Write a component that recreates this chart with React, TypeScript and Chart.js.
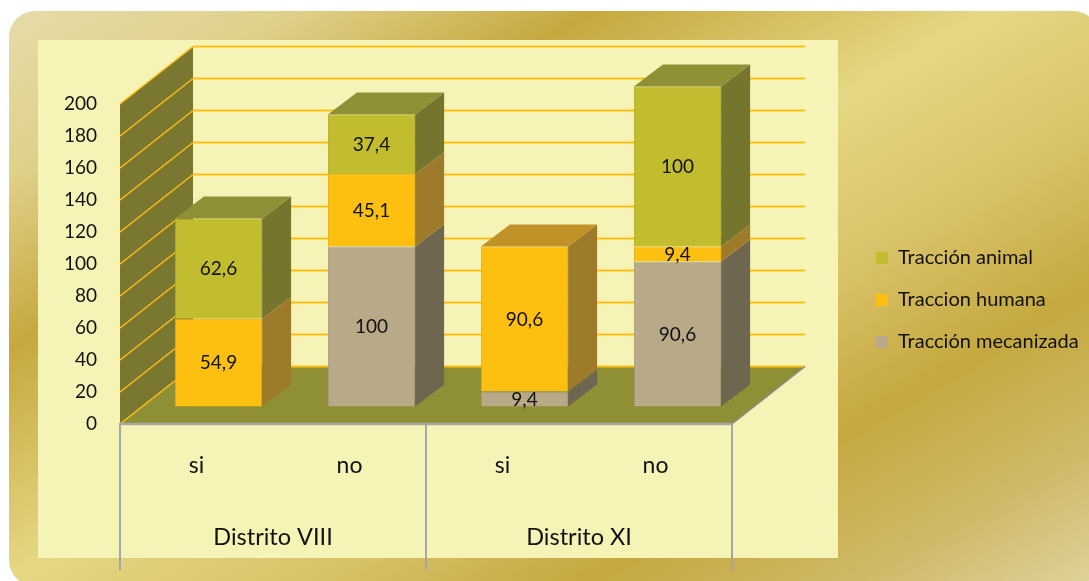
import React, { useEffect, useRef } from "react";
import { Chart, registerables } from "chart.js";

Chart.register(...registerables);

const categories = ["si", "no", "si", "no"];
const groups = [
  { label: "Distrito VIII", from: 0, to: 1 },
  { label: "Distrito XI", from: 2, to: 3 },
];
const mecanizada = [null, 100, 9.4, 90.6];
const humana = [54.9, 45.1, 90.6, 9.4];
const animal = [62.6, 37.4, null, 100];

const FONT = "Lato, Carlito, Calibri, sans-serif";
const TEXT = "#111111";
const GOLD = "#fcbf14";
const AXIS = "#a6a6a6";
const RIGHT_PAD = 10;
// 3D projection of the Excel chart
const WALL = { dx: 73, dy: -57.5 };
const BAR = { shiftX: 22, shiftY: -17.5, dx: 29, dy: -22 };

const shades = [
  { front: "#b8aa88", side: "#6f6650", top: "#8f8a50" },
  { front: "#fdc010", side: "#9e7a2b", top: "#c09228" },
  { front: "#c2bc2f", side: "#76752e", top: "#8f8f35" },
];

function poly(ctx: CanvasRenderingContext2D, pts: number[][], fill: string) {
  ctx.beginPath();
  pts.forEach((p, i) => (i ? ctx.lineTo(p[0], p[1]) : ctx.moveTo(p[0], p[1])));
  ctx.closePath();
  ctx.fillStyle = fill;
  ctx.fill();
}

function line(ctx: CanvasRenderingContext2D, a: number[], b: number[], color: string, w: number) {
  ctx.beginPath();
  ctx.moveTo(a[0], a[1]);
  ctx.lineTo(b[0], b[1]);
  ctx.strokeStyle = color;
  ctx.lineWidth = w;
  ctx.stroke();
}

const box3d = {
  id: "box3d",
  afterLayout(chart: any) {
    // the layout caps the legend's width: widen its box so no text is clipped
    const lg = chart.legend;
    lg.left = 854;
    lg.right = 1089;
    lg.width = 235;
  },
  beforeDraw(chart: any) {
    const { ctx, chartArea: a, scales } = chart;
    const y = scales.y;
    const { dx, dy } = WALL;
    ctx.save();
    // side wall and floor
    poly(ctx, [[a.left, a.bottom], [a.left + dx, a.bottom + dy], [a.left + dx, a.top + dy], [a.left, a.top]], "#7a7730");
    poly(ctx, [[a.left, a.bottom], [a.left + dx, a.bottom + dy], [a.right + dx, a.bottom + dy], [a.right, a.bottom]], "#8f8f35");
    // gridlines on side wall and back wall
    y.ticks.forEach((t: any) => {
      const py = y.getPixelForValue(t.value);
      line(ctx, [a.left, py], [a.left + dx, py + dy], GOLD, 1.5);
      line(ctx, [a.left + dx, py + dy], [a.right + dx, py + dy], GOLD, 2);
    });
    line(ctx, [a.right, a.bottom], [a.right + dx, a.bottom + dy], "#8c8c8c", 1.5);
    // multi-level category axis
    const x = scales.x;
    const edges = [a.left, (x.getPixelForValue(1) + x.getPixelForValue(2)) / 2, a.right];
    line(ctx, [a.left - 1, a.bottom], [a.right + 1, a.bottom], AXIS, 2.5);
    edges.forEach((e) => line(ctx, [e, a.bottom], [e, 570], AXIS, 2));
    ctx.fillStyle = TEXT;
    ctx.font = `23.5px ${FONT}`;
    ctx.textAlign = "center";
    ctx.textBaseline = "middle";
    groups.forEach((g) => {
      const c = (x.getPixelForValue(g.from) + x.getPixelForValue(g.to)) / 2;
      ctx.fillText(g.label, c, 537);
    });
    ctx.restore();
  },
  beforeDatasetsDraw(chart: any) {
    const { ctx } = chart;
    ctx.save();
    ctx.translate(BAR.shiftX, BAR.shiftY);
    categories.forEach((_, idx) => {
      let topIdx = -1;
      chart.data.datasets.forEach((d: any, ds: number) => {
        if (d.data[idx] != null) topIdx = ds;
      });
      chart.data.datasets.forEach((d: any, ds: number) => {
        if (d.data[idx] == null) return;
        const el = chart.getDatasetMeta(ds).data[idx];
        const r = el.x + el.width / 2;
        const l = el.x - el.width / 2;
        poly(ctx, [[r, el.y], [r + BAR.dx, el.y + BAR.dy], [r + BAR.dx, el.base + BAR.dy], [r, el.base]], shades[ds].side);
        if (ds === topIdx) {
          poly(ctx, [[l, el.y], [l + BAR.dx, el.y + BAR.dy], [r + BAR.dx, el.y + BAR.dy], [r, el.y]], shades[ds].top);
        }
      });
    });
  },
  afterDatasetsDraw(chart: any) {
    const { ctx } = chart;
    ctx.fillStyle = TEXT;
    ctx.font = `19px ${FONT}`;
    ctx.textAlign = "center";
    ctx.textBaseline = "middle";
    chart.data.datasets.forEach((d: any, ds: number) => {
      d.data.forEach((v: number | null, idx: number) => {
        if (v == null) return;
        const el = chart.getDatasetMeta(ds).data[idx];
        ctx.fillText(String(v).replace(".", ","), el.x, (el.y + el.base) / 2 + 0.5);
      });
    });
    ctx.restore();
  },
};

export default function App() {
  const ref = useRef<HTMLCanvasElement>(null);
  useEffect(() => {
    document.body.style.margin = "0";
    document.body.style.overflow = "hidden";
    const chart = new Chart(ref.current!, {
      type: "bar",
      data: {
        labels: categories,
        datasets: [
          { label: "Tracción mecanizada", data: mecanizada, backgroundColor: shades[0].front, borderColor: "#a89a78", borderWidth: 1, clip: false },
          { label: "Traccion humana", data: humana, backgroundColor: shades[1].front, borderColor: "#e4ac14", borderWidth: 1, clip: false },
          { label: "Tracción animal", data: animal, backgroundColor: shades[2].front, borderColor: "#b0aa2a", borderWidth: 1, clip: false },
        ] as any,
      },
      options: {
        animation: false,
        responsive: false,
        layout: { padding: { top: 104, right: RIGHT_PAD, left: 0, bottom: 85 } },
        datasets: { bar: { barPercentage: 0.57, categoryPercentage: 1 } },
        plugins: {
          tooltip: { enabled: false },
          legend: {
            position: "right",
            reverse: true,
            align: "center",
            labels: {
              boxWidth: 12,
              boxHeight: 12,
              padding: 22,
              color: TEXT,
              font: { family: FONT, size: 20 },
              generateLabels: (chart: any) =>
                Chart.defaults.plugins.legend.labels
                  .generateLabels(chart)
                  .map((item: any) => ({ ...item, lineWidth: 0, strokeStyle: "transparent" })),
            },
          },
        },
        scales: {
          x: {
            stacked: true,
            grid: { display: false },
            border: { display: false },
            ticks: { color: TEXT, font: { family: FONT, size: 23 }, padding: 20, maxRotation: 0, autoSkip: false },
            afterFit: (s: any) => { s.height = 72; },
          },
          y: {
            stacked: true,
            min: 0,
            max: 200,
            grid: { display: false },
            border: { display: false },
            ticks: { stepSize: 20, color: TEXT, font: { family: FONT, size: 19 }, padding: 15 },
            afterFit: (s: any) => { s.width = 120; },
          },
          gap: {
            type: "linear",
            position: "right",
            display: true,
            grid: { display: false },
            border: { display: false },
            ticks: { display: false },
            afterFit: (s: any) => {
              const lw = s.chart.legend ? s.chart.legend.width : 200;
              s.width = 1089 - RIGHT_PAD - 732 - lw;
            },
          },
        },
      } as any,
      plugins: [box3d],
    });
    return () => chart.destroy();
  }, []);

  const goldBg =
    "linear-gradient(150deg,#e6dbab 0%,#dfd088 14%,#c6a83e 28%,#e5d784 47%,#d8c268 62%,#c5a83e 75%,#cfb968 88%,#e0d49c 100%)";
  return (
    <div style={{ position: "relative", width: 1089, height: 581, overflow: "hidden", background: "#fff" }}>
      <div style={{ position: "absolute", left: 9, top: 11, width: 1090, height: 575, borderRadius: 26, background: goldBg }} />
      <div style={{ position: "absolute", left: 38, top: 40, width: 800, height: 518, background: "#f5f4b6" }} />
      <canvas ref={ref} width={1089} height={581} style={{ position: "absolute", left: 0, top: 0, display: "block" }} />
    </div>
  );
}
